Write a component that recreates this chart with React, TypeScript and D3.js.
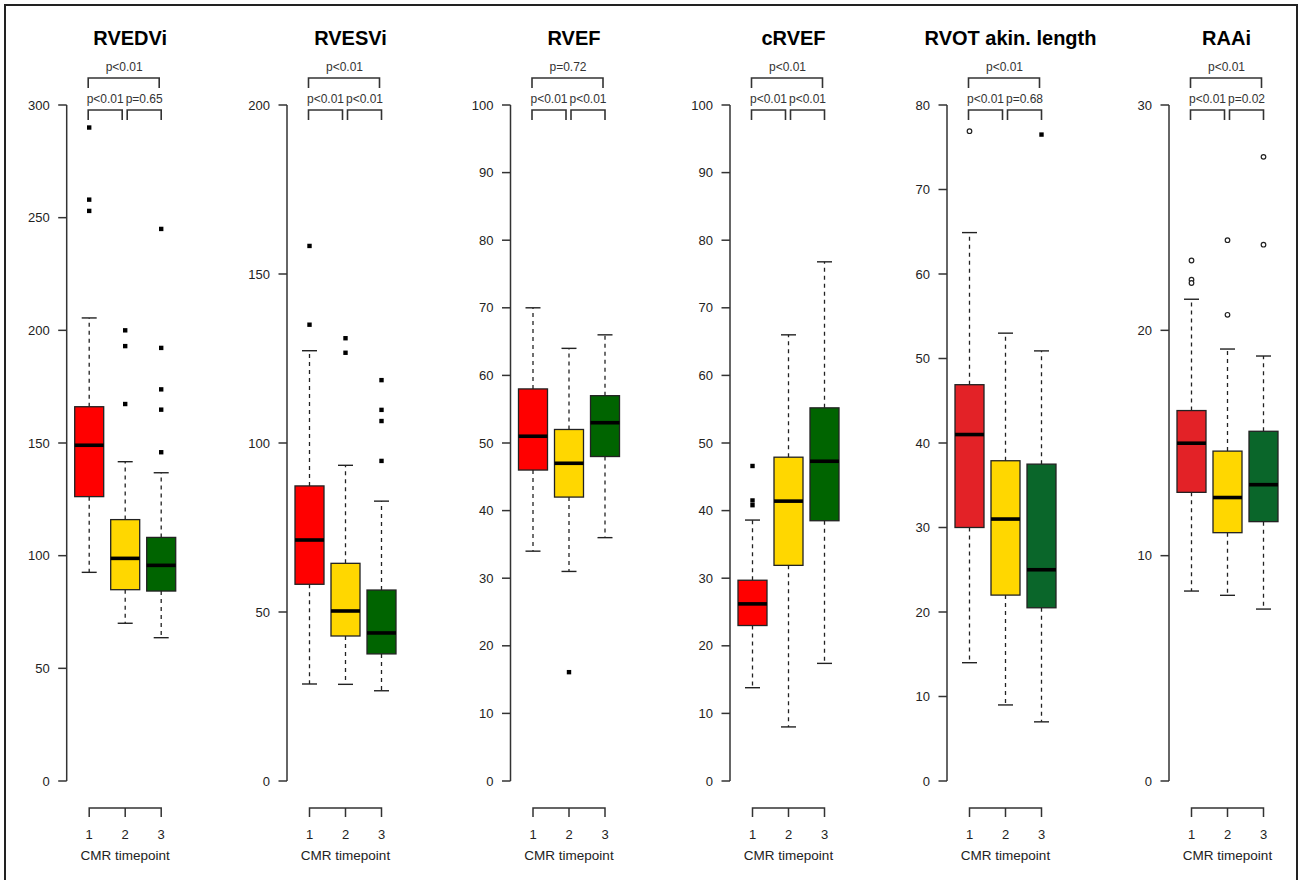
import React from "react";
import * as d3 from "d3";

// ---- data ----
const timepoints = ["1", "2", "3"];
const titles = ["RVEDVi", "RVESVi", "RVEF", "cRVEF", "RVOT akin. length", "RAAi"];
const yMaxima = [300, 200, 100, 100, 80, 30];
const tickSteps = [50, 50, 10, 10, 10, 10];

// five-number summaries per timepoint: [lower whisker, Q1, median, Q3, upper whisker]
const rvedviStats = [[92.6, 126.2, 149, 166.1, 205.5], [70, 84.9, 98.8, 116, 141.7], [63.6, 84.3, 95.7, 108.1, 136.8]];
const rvesviStats = [[28.7, 58.2, 71.3, 87.3, 127.3], [28.6, 42.9, 50.3, 64.4, 93.4], [26.7, 37.6, 43.8, 56.5, 82.8]];
const rvefStats = [[34, 46, 51, 58, 70], [31, 42, 47, 52, 64], [36, 48, 53, 57, 66]];
const crvefStats = [[13.8, 23, 26.2, 29.7, 38.6], [8, 31.9, 41.4, 47.9, 66], [17.4, 38.5, 47.3, 55.2, 76.8]];
const rvotStats = [[14, 30, 41, 46.9, 64.9], [9, 22, 31, 37.9, 53], [7, 20.5, 25, 37.5, 50.9]];
const raaiStats = [[8.43, 12.81, 14.99, 16.44, 21.38], [8.24, 11.02, 12.58, 14.64, 19.17], [7.63, 11.51, 13.15, 15.52, 18.86]];

const rvedviOutliers = [[290, 258, 253], [200, 193, 167.3], [245, 192.2, 173.8, 164.8, 145.9]];
const rvesviOutliers = [[158.3, 135], [131, 126.7], [118.6, 109.8, 106.5, 94.7]];
const rvefOutliers = [[], [16.1], []];
const crvefOutliers = [[46.6, 41.5, 40.8], [], []];
const rvotOutliers = [[76.9], [], [76.5]];
const raaiOutliers = [[23.1, 22.25, 22.1], [24.0, 20.69], [27.7, 23.8]];

// marker type per timepoint
const squareMarkers = ["square", "square", "square"];
const rvotMarkers = ["circle", "square", "square"];
const circleMarkers = ["circle", "circle", "circle"];

const topPValues = ["p<0.01", "p<0.01", "p=0.72", "p<0.01", "p<0.01", "p<0.01"];
const leftPValues = ["p<0.01", "p<0.01", "p<0.01", "p<0.01", "p<0.01", "p<0.01"];
const rightPValues = ["p=0.65", "p<0.01", "p<0.01", "p<0.01", "p=0.68", "p=0.02"];

const paletteBright = ["#FF0000", "#FFD700", "#006400"];
const paletteDeep = ["#E32227", "#FFD700", "#0A662A"];

const panelStats = [rvedviStats, rvesviStats, rvefStats, crvefStats, rvotStats, raaiStats];
const panelOutliers = [rvedviOutliers, rvesviOutliers, rvefOutliers, crvefOutliers, rvotOutliers, raaiOutliers];
const panelMarkers = [squareMarkers, squareMarkers, squareMarkers, squareMarkers, rvotMarkers, circleMarkers];
const panelPalettes = [paletteBright, paletteBright, paletteBright, paletteBright, paletteDeep, paletteDeep];

// ---- layout ----
const W = 1300;
const H = 880;
const axisXs = [66.7, 287, 510.5, 730, 947, 1169];
const yBottom = 781;
const yTop = 105;
const boxW = 29;
const FONT = "'Liberation Sans', Arial, Helvetica, sans-serif";
const INK = "#222";

function Panel({ i }: { i: number }) {
  const ax = axisXs[i];
  const x = d3.scalePoint<string>().domain(timepoints).range([ax + 22.5, ax + 94.5]);
  const y = d3.scaleLinear().domain([0, yMaxima[i]]).range([yBottom, yTop]);
  const ticks = d3.range(0, yMaxima[i] + 0.001, tickSteps[i]);
  const stats = panelStats[i];
  const outs = panelOutliers[i];
  const markers = panelMarkers[i];
  const pal = panelPalettes[i];
  const c1 = x("1")!, c2 = x("2")!, c3 = x("3")!;

  return (
    <g>
      {/* title */}
      <text x={c2 + (i === 5 ? -1 : 5)} y={45} textAnchor="middle" fontFamily={FONT} fontWeight="bold" fontSize={20} fill="#000">
        {titles[i]}
      </text>

      {/* brackets */}
      <g stroke="#333" strokeWidth={1.6} fill="none">
        <path d={`M${c1 - 1},88V78H${c3 - 2}V88`} />
        <path d={`M${c1 - 1},120V110H${c2 - 3}V120`} />
        <path d={`M${c2 + 2},120V110H${c3}V120`} />
      </g>
      <g fontFamily={FONT} fontSize={12} fill="#333" textAnchor="middle">
        <text x={(c1 + c3) / 2 - 1} y={71}>{topPValues[i]}</text>
        <text x={(c1 + c2) / 2 - 2} y={103}>{leftPValues[i]}</text>
        <text x={(c2 + c3) / 2 + 1} y={103}>{rightPValues[i]}</text>
      </g>

      {/* y axis */}
      <line x1={ax} x2={ax} y1={y(0)} y2={y(yMaxima[i])} stroke="#333" strokeWidth={1.5} />
      {ticks.map((t) => (
        <g key={t}>
          <line x1={ax - 8.5} x2={ax} y1={y(t)} y2={y(t)} stroke="#333" strokeWidth={1.5} />
          <text x={ax - 17} y={y(t) + 4.5} textAnchor="end" fontFamily={FONT} fontSize={13} fill={INK}>
            {t}
          </text>
        </g>
      ))}

      {/* x axis */}
      <path d={`M${c1},817V808H${c3}V817M${c2},808V817`} stroke="#333" strokeWidth={1.5} fill="none" />
      {timepoints.map((tp) => (
        <text key={tp} x={x(tp)} y={839} textAnchor="middle" fontFamily={FONT} fontSize={13} fill={INK}>
          {tp}
        </text>
      ))}
      <text x={c2} y={860} textAnchor="middle" fontFamily={FONT} fontSize={13.5} fill={INK}>
        CMR timepoint
      </text>

      {/* boxes */}
      {timepoints.map((tp, g) => {
        const [lo, q1, med, q3, hi] = stats[g];
        const cx = x(tp)!;
        return (
          <g key={tp}>
            <line x1={cx} x2={cx} y1={y(q3)} y2={y(hi)} stroke={INK} strokeWidth={1.3} strokeDasharray="4 4" />
            <line x1={cx} x2={cx} y1={y(q1)} y2={y(lo)} stroke={INK} strokeWidth={1.3} strokeDasharray="4 4" />
            <line x1={cx - 7.5} x2={cx + 7.5} y1={y(hi)} y2={y(hi)} stroke={INK} strokeWidth={1.4} />
            <line x1={cx - 7.5} x2={cx + 7.5} y1={y(lo)} y2={y(lo)} stroke={INK} strokeWidth={1.4} />
            <rect x={cx - boxW / 2} y={y(q3)} width={boxW} height={y(q1) - y(q3)} fill={pal[g]} stroke={INK} strokeWidth={1.3} />
            <line x1={cx - boxW / 2} x2={cx + boxW / 2} y1={y(med)} y2={y(med)} stroke="#000" strokeWidth={3.6} />
            {outs[g].map((v, k) =>
              markers[g] === "circle" ? (
                <circle key={k} cx={cx} cy={y(v)} r={2.3} fill="#fff" stroke={INK} strokeWidth={1.2} />
              ) : (
                <rect key={k} x={cx - 2.2} y={y(v) - 2.2} width={4.4} height={4.4} fill="#000" />
              )
            )}
          </g>
        );
      })}
    </g>
  );
}

export default function App() {
  return (
    <svg
      width={W}
      height={H}
      viewBox={`0 0 ${W} ${H}`}
      style={{ position: "absolute", left: 0, top: 0, background: "#fff" }}
    >
      <rect x={0} y={0} width={W} height={H} fill="#fff" />
      <rect x={5} y={5} width={1292} height={H + 10} fill="none" stroke="#222" strokeWidth={2} />
      {titles.map((_, i) => (
        <Panel key={i} i={i} />
      ))}
    </svg>
  );
}
